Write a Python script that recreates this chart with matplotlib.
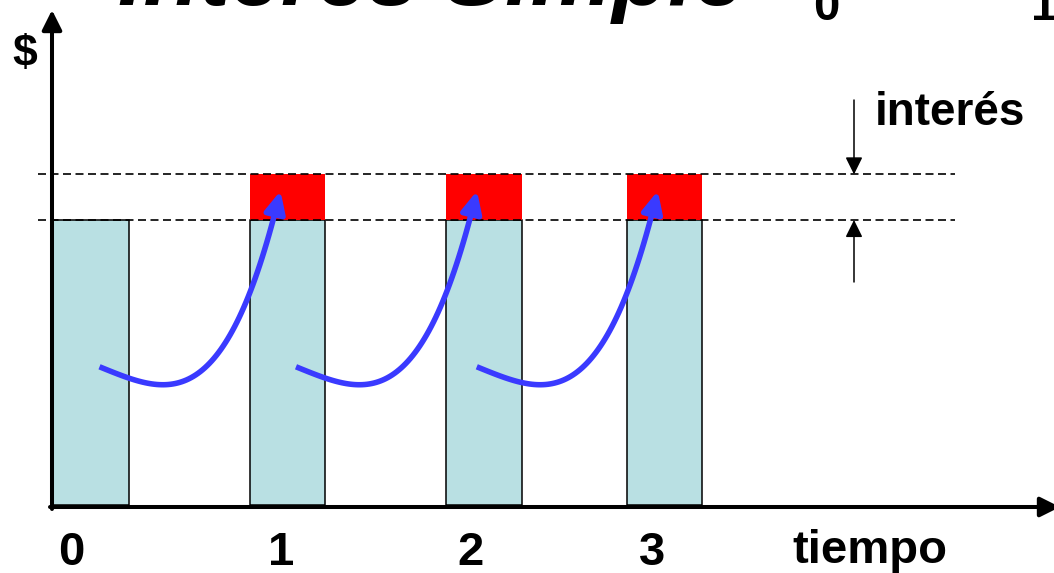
import numpy as np
import matplotlib
matplotlib.use("Agg")
import matplotlib.pyplot as plt
from matplotlib.patches import FancyArrowPatch
from matplotlib.path import Path

# ---------------- data ----------------
periodos = ["0", "1", "2", "3"]
capital = [100, 100, 100, 100]
interes = [0, 16, 16, 16]
titulo = "Interés Simple"
eje_x = "tiempo"
eje_y = "$"
etiqueta_interes = "interés"

# ---------------- layout ----------------
W_PX, H_PX = 1054, 573
x_pos = [0, 1, 2, 2.92]          # bar centres (period units)
bar_w = 0.382
X_UNIT_PX = 196.5                # pixels per period unit
X_ORIG_PX = 91.0                 # pixel of period 0 centre
Y_UNIT_PX = 2.85                 # pixels per $
Y_ORIG_PX = 505.0                # pixel row of $0 (from top)

X0 = -X_ORIG_PX / X_UNIT_PX
X1 = (W_PX - X_ORIG_PX) / X_UNIT_PX
Y0 = -(H_PX - Y_ORIG_PX) / Y_UNIT_PX
Y1 = Y_ORIG_PX / Y_UNIT_PX


def px_x(p):
    return X0 + p / W_PX * (X1 - X0)


def px_y(p):
    return Y1 - p / H_PX * (Y1 - Y0)


plt.rcParams['font.family'] = ['Liberation Sans', 'DejaVu Sans']

fig = plt.figure(figsize=(W_PX / 100, H_PX / 100), dpi=100)
ax = fig.add_axes([0, 0, 1, 1])
ax.set_xlim(X0, X1)
ax.set_ylim(Y0, Y1)
ax.axis('off')

BLUE_BAR = '#b9e0e3'
CURVE = '#3a3aff'

# bars
ax.bar(x_pos, capital, width=bar_w, color=BLUE_BAR, edgecolor='black',
       linewidth=1.1, zorder=2)
ax.bar(x_pos, interes, bottom=capital, width=bar_w, color='#ff0000',
       linewidth=0, zorder=2)

# dashed reference levels
nivel_cap = capital[1]
nivel_tot = capital[1] + interes[1]
for lvl in (nivel_cap, nivel_tot):
    ax.axhline(lvl, xmin=38 / W_PX, xmax=955 / W_PX, color='black', lw=1.2,
               linestyle=(0, (4.8, 2.7)), zorder=3)

# axes with arrows
axis_kw = dict(arrowstyle='-|>,head_length=12,head_width=6', color='black',
               lw=2.9, shrinkA=0, shrinkB=0, mutation_scale=1)
ax.annotate('', xy=(px_x(52), px_y(10)), xytext=(px_x(52), px_y(509)),
            arrowprops=axis_kw, zorder=4, annotation_clip=False)
ax.annotate('', xy=(px_x(1060), px_y(507)), xytext=(px_x(50), px_y(507)),
            arrowprops=axis_kw, zorder=4, annotation_clip=False)

# interest markers
small_kw = dict(arrowstyle='-|>,head_length=10.5,head_width=5.2', color='black',
                lw=1.1, shrinkA=0, shrinkB=0, mutation_scale=1)
xi = px_x(854)
ax.annotate('', xy=(xi, nivel_tot), xytext=(xi, px_y(100)), arrowprops=small_kw, zorder=4)
ax.annotate('', xy=(xi, nivel_cap), xytext=(xi, px_y(282)), arrowprops=small_kw, zorder=4)

# curved blue arrows from one period to the next
curve_dx = 181 / X_UNIT_PX
tip_off = 7 / X_UNIT_PX
u = np.linspace(0, 1, 80)
n_exp = 3.3
k = 1 / (1 - n_exp * 0.35 ** (n_exp - 1))
m = k * n_exp * 0.35 ** (n_exp - 1)
v = k * u ** n_exp - m * u
for i in range(1, len(x_pos)):
    xe = x_pos[i] - tip_off
    ye = capital[i] + 0.64 * interes[i]
    xs = xe - curve_dx
    ys = capital[i - 1] * 0.485
    xs_c = xs + u * (xe - xs)
    ys_c = ys + v * (ye - ys)
    arr = FancyArrowPatch(path=Path(np.column_stack([xs_c, ys_c])),
                          arrowstyle='-|>,head_length=13,head_width=6.2',
                          mutation_scale=1, color=CURVE, lw=4.0, zorder=5,
                          joinstyle='round', capstyle='butt')
    ax.add_patch(arr)

# texts
bold = dict(fontweight='bold', color='black')
label_px = [71, 281, 470, 652]
for lab, xp in zip(periodos, label_px):
    ax.text(px_x(xp), px_y(565), lab, ha='center', va='baseline', fontsize=34, **bold)
ax.text(px_x(870), px_y(563), eje_x, ha='center', va='baseline', fontsize=34, **bold)
ax.text(px_x(24.5), px_y(66), eje_y, ha='center', va='baseline', fontsize=32, **bold)
ax.text(px_x(875), px_y(125), etiqueta_interes, ha='left', va='baseline', fontsize=33, **bold)

# cut-off title and fragments at top
ax.text(px_x(118), px_y(5), titulo, ha='left', va='baseline', fontsize=66,
        fontweight='bold', fontstyle='italic', color='black')
ax.text(px_x(826), px_y(20), "0", ha='center', va='baseline', fontsize=34, **bold)
ax.text(px_x(1044), px_y(20), "1", ha='center', va='baseline', fontsize=34, **bold)

fig.savefig('out.png', dpi=100)
